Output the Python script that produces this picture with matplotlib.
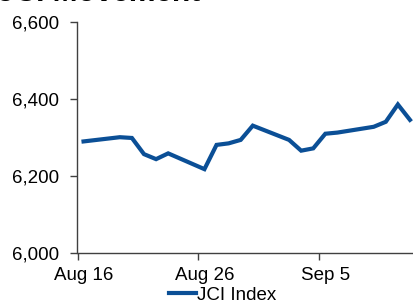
import pandas as pd
import matplotlib
matplotlib.use("Agg")
import matplotlib.pyplot as plt
from matplotlib.ticker import FuncFormatter

# --------------------------
# Data
# --------------------------
dates = ["2019-08-16", "2019-08-19", "2019-08-20", "2019-08-21", "2019-08-22",
         "2019-08-23", "2019-08-26", "2019-08-27", "2019-08-28", "2019-08-29",
         "2019-08-30", "2019-09-02", "2019-09-03", "2019-09-04", "2019-09-05",
         "2019-09-06", "2019-09-09", "2019-09-10", "2019-09-11", "2019-09-12"]
jci = [6289, 6300, 6298, 6256, 6243, 6258, 6217, 6280, 6284, 6293,
       6330, 6293, 6265, 6271, 6309, 6312, 6327, 6340, 6385, 6345]
y_ticks = [6000, 6200, 6400, 6600]
x_tick_labels = ["Aug 16", "Aug 26", "Sep 5"]

df = pd.DataFrame({"date": pd.to_datetime(dates), "jci": jci})

# --------------------------
# Plot
# --------------------------
plt.rcParams["font.family"] = ["Liberation Sans", "DejaVu Sans"]
line_color = "#0B4F96"
axis_color = "#404040"

fig = plt.figure(figsize=(4.14, 3.02), dpi=100)
ax = fig.add_axes([77.5 / 414, 1 - 252.7 / 302, (416 - 77.5) / 414, 231 / 302])

ax.plot(df["date"], df["jci"], color=line_color, lw=3, label="JCI Index",
        solid_joinstyle="miter")

ax.set_ylim(6000, 6600)
ax.set_yticks(y_ticks)
ax.yaxis.set_major_formatter(FuncFormatter(lambda v, _: f"{int(v):,}"))

# date axis: ticks sit between days, labels centred on the day
start = pd.Timestamp("2019-08-16")
half = pd.Timedelta(hours=12)
ax.set_xlim(start - half, pd.Timestamp("2019-09-12") + half)
tick_pos = [start - half + pd.Timedelta(days=10 * i) for i in range(3)]
label_pos = [start + pd.Timedelta(days=10 * i) for i in range(3)]
ax.set_xticks(tick_pos)
ax.set_xticklabels([])
ax.set_xticks(label_pos, minor=True)
ax.set_xticklabels(x_tick_labels, minor=True)
ax.tick_params(axis="x", which="minor", length=0, pad=10, labelsize=13.5)

for s in ["top", "right"]:
    ax.spines[s].set_visible(False)
for s in ["left", "bottom"]:
    ax.spines[s].set_color(axis_color)
    ax.spines[s].set_linewidth(1)

ax.tick_params(axis="both", which="major", direction="out", length=5,
               width=1, color=axis_color, labelsize=13.5)
ax.tick_params(axis="y", pad=8.5)

fig.text(-0.005, 1 - 1 / 302, "JCI Movement", fontsize=21.5, fontweight="bold",
         va="baseline", ha="left")

ax.legend(loc="center", bbox_to_anchor=(223 / 414, 1 - 295 / 302),
          bbox_transform=fig.transFigure, frameon=False, fontsize=13.5,
          handlelength=1.4, handletextpad=0.1, borderpad=0)

fig.savefig("out.png", dpi=100)
